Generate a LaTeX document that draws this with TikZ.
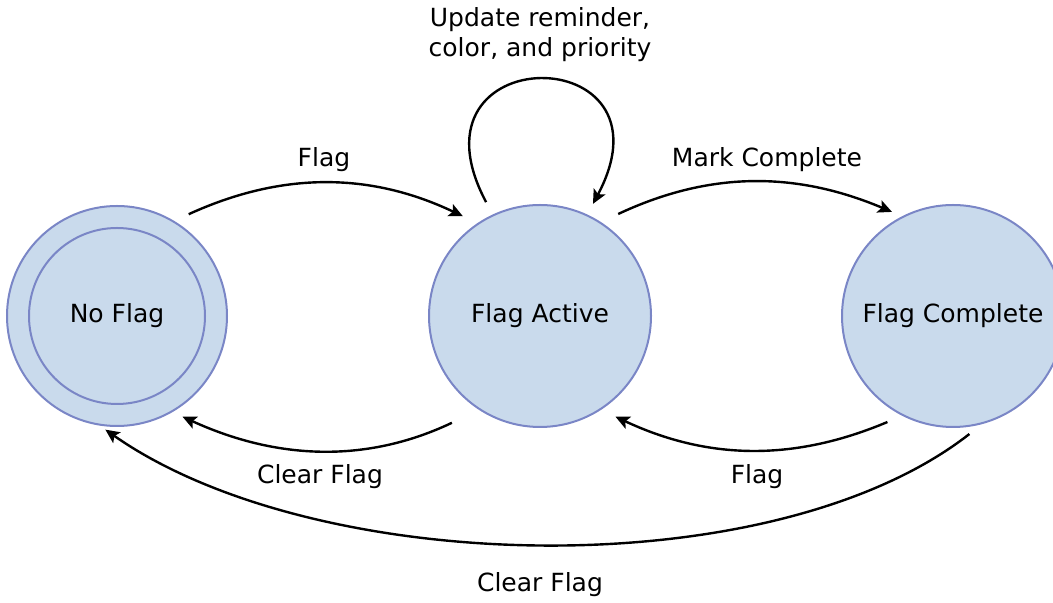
\documentclass[tikz,border=0pt]{standalone}
\usepackage{fontspec}
\setmainfont{DejaVu Sans}
\usetikzlibrary{arrows.meta}
\definecolor{statefill}{RGB}{201,218,236}
\definecolor{stateline}{RGB}{122,134,198}

\begin{document}
\begin{tikzpicture}[x=0.5pt, y=0.5pt,
  font=\fontsize{12.5}{15}\selectfont,
  state/.style={circle, draw=stateline, fill=statefill, line width=1pt, inner sep=0pt, minimum size=#1},
  trans/.style={-{Stealth[length=7pt,width=6.5pt,inset=1.5pt]}, line width=1.2pt, shorten <=8pt, shorten >=8pt}]
  \useasboundingbox (0,0) rectangle (1053,603);
  \clip (0,0) rectangle (1053,603);
  % states
  \node[state=110pt] (noflag) at (117,287) {};
  \node[state=88pt] (noflagin) at (117,287) {No Flag};
  \node[state=111pt] (active) at (540,287) {Flag Active};
  \node[state=111pt] (complete) at (953,287) {Flag Complete};
  % transitions
  \draw[trans] (noflag.59) to[bend left=25] (active.124);
  \draw[trans, shorten <=7pt, shorten >=6pt] (active.115) .. controls +(118:200) and +(62:200) .. (active.65);
  \draw[trans, shorten <=9.5pt, shorten >=5.5pt] (active.57) to[bend left=24] (complete.117);
  \draw[trans, shorten <=15pt, shorten >=5.5pt] (active.237) to[bend left=25] (noflag.300);
  \draw[trans] (complete.243) to[bend left=24] (active.303);
  \draw[trans, shorten <=8pt, shorten >=3.5pt] (complete.285) .. controls +(218:265) and +(325:265) .. (noflag.261);
  % labels
  \node (flaglbl) at (324,443) {Flag};
  \node[align=center] (updatelbl) at (540,568) {Update reminder,\\color, and priority};
  \node (marklbl) at (767,443) {Mark Complete};
  \node (clearlbl) at (320,126) {Clear Flag};
  \node (flagbacklbl) at (757,126) {Flag};
  \node (clearalllbl) at (540,18) {Clear Flag};
\end{tikzpicture}
\end{document}
